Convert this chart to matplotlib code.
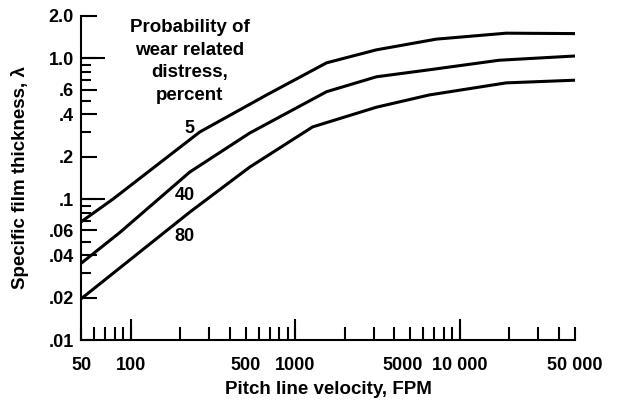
import matplotlib.pyplot as plt
from matplotlib.ticker import NullFormatter
from matplotlib.transforms import ScaledTranslation

plt.rcParams['font.family'] = ['Liberation Sans', 'DejaVu Sans']

# curves: pitch line velocity (FPM) vs specific film thickness
velocity_5 = [50, 78, 263, 670, 1550, 3110, 7190, 19100, 50000]
lambda_5 = [0.069, 0.10, 0.30, 0.55, 0.93, 1.15, 1.37, 1.51, 1.50]
velocity_40 = [50, 86, 229, 529, 1550, 3110, 6520, 17300, 50000]
lambda_40 = [0.035, 0.058, 0.156, 0.295, 0.58, 0.74, 0.83, 0.97, 1.04]
velocity_80 = [50, 229, 529, 1274, 3110, 6520, 19100, 50000]
lambda_80 = [0.0196, 0.081, 0.169, 0.326, 0.45, 0.55, 0.67, 0.70]

x_ticks = [50, 100, 500, 1000, 5000, 10000, 50000]
x_labels = ["50", "100", "500", "1000", "5000", "10 000", "50 000"]
x_minor = [60, 70, 80, 90, 200, 300, 400, 600, 700, 800, 900,
           2000, 3000, 4000, 6000, 7000, 8000, 9000, 20000, 30000, 40000]
y_ticks = [0.01, 0.02, 0.04, 0.06, 0.1, 0.2, 0.4, 0.6, 1.0, 2.0]
y_labels = [".01", ".02", ".04", ".06", ".1", ".2", ".4", ".6", "1.0", "2.0"]
y_minor = [0.03, 0.05, 0.07, 0.08, 0.09, 0.3, 0.5, 0.7, 0.8, 0.9]

fig = plt.figure(figsize=(6.19, 4.04), dpi=100)
ax = fig.add_axes([0.1309, 0.1584, 0.798, 0.802])
ax.set_xscale("log")
ax.set_yscale("log")

for v, lam in [(velocity_5, lambda_5), (velocity_40, lambda_40), (velocity_80, lambda_80)]:
    ax.plot(v, lam, color="black", lw=2.2, solid_capstyle="butt")

ax.set_xlim(50, 50000)
ax.set_ylim(0.01, 2.0)
for s in ["top", "right"]:
    ax.spines[s].set_visible(False)
for s in ["left", "bottom"]:
    ax.spines[s].set_linewidth(1.5)

ax.set_xticks(x_ticks)
ax.set_xticklabels(x_labels)
ax.set_xticks(x_minor, minor=True)
ax.set_yticks(y_ticks)
ax.set_yticklabels(y_labels)
ax.set_yticks(y_minor, minor=True)
ax.xaxis.set_minor_formatter(NullFormatter())
ax.yaxis.set_minor_formatter(NullFormatter())

ax.tick_params(which="both", direction="in", width=1.5, labelsize=13)
ax.tick_params(axis="x", which="both", length=9.5, pad=12.5)
ax.tick_params(axis="y", which="major", length=11.5, pad=5)
ax.tick_params(axis="y", which="minor", length=7)
for lab in ax.get_xticklabels() + ax.get_yticklabels():
    lab.set_fontweight("bold")

# the "5000" label sits a little left of its tick in the original
fig.canvas.draw()
lab5000 = ax.get_xticklabels()[4]
lab5000.set_transform(lab5000.get_transform() + ScaledTranslation(-0.08, 0, fig.dpi_scale_trans))

# longer ticks at the decades
ax.vlines([100, 1000, 10000], 0, 0.065, transform=ax.get_xaxis_transform(),
          color="black", lw=1.5, clip_on=False)
ax.hlines([0.1, 1.0], 0, 0.049, transform=ax.get_yaxis_transform(),
          color="black", lw=1.5, clip_on=False)

ax.set_xlabel("Pitch line velocity, FPM", fontsize=13.5, fontweight="bold", labelpad=5)
ax.set_ylabel("Specific film thickness, λ", fontsize=13.5, fontweight="bold", labelpad=14)

ax.text(229, 0.95, "Probability of\nwear related\ndistress,\npercent",
        ha="center", va="center", multialignment="center",
        fontsize=13.5, fontweight="bold", linespacing=1.45)
ax.text(229, 0.32, "5", ha="center", va="center", fontsize=13, fontweight="bold")
ax.text(213, 0.107, "40", ha="center", va="center", fontsize=13, fontweight="bold")
ax.text(213, 0.054, "80", ha="center", va="center", fontsize=13, fontweight="bold")

fig.savefig("out.png", dpi=100)
